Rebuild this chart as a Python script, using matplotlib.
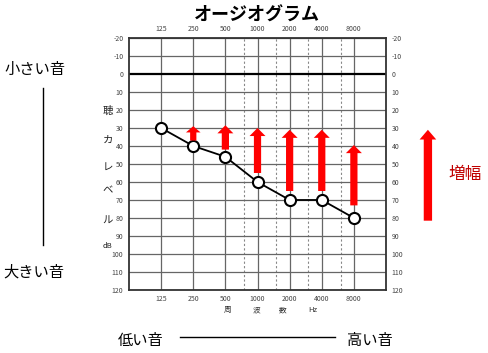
import matplotlib
matplotlib.use("Agg")
import matplotlib.pyplot as plt
import matplotlib.transforms as mtransforms
from matplotlib.patches import FancyArrowPatch, ArrowStyle

plt.rcParams['font.family'] = ['Noto Sans CJK JP', 'DejaVu Sans']

# audiogram data
freqs = [125, 250, 500, 1000, 2000, 4000, 8000]
freq_labels = ['125', '250', '500', '1000', '2000', '4000', '8000']
levels = [30, 40, 46, 60, 70, 70, 80]
half_octaves = [750, 1500, 3000, 6000]
db_ticks = list(range(-20, 121, 10))

# amplification arrows (bottom -> tip in dB)
arrow_freqs = [250, 500, 1000, 2000, 4000, 8000]
arrow_base = [37, 42, 55, 65, 65, 73]
arrow_tip = [29, 28.5, 30, 31, 31, 39.5]

fig = plt.figure(figsize=(4.89, 3.53), dpi=100)
ax = fig.add_axes([0.2638, 0.1785, 0.5256, 0.7139])

ax.set_xscale('log', base=2)
ax.set_xlim(62.5, 16000)
ax.set_ylim(120, -20)
ax.minorticks_off()

# grid
for f in freqs:
    ax.axvline(f, color='#666666', lw=0.9, zorder=1)
for f in half_octaves:
    ax.axvline(f, color='#888888', lw=0.8, ls=(0, (2, 2)), zorder=1)
for d in db_ticks:
    if d == 0:
        ax.axhline(d, color='black', lw=1.6, zorder=1)
    else:
        ax.axhline(d, color='#666666', lw=0.9, zorder=1)

for s in ax.spines.values():
    s.set_color('#333333')
    s.set_linewidth(1.3)

ax.set_xticks(freqs)
ax.set_xticklabels(freq_labels)
ax.set_yticks(db_ticks)
ax.set_yticklabels([str(d) for d in db_ticks])
ax.tick_params(axis='both', length=0, labelsize=5, labelcolor='#444444')
ax.tick_params(axis='x', labeltop=True, labelbottom=True, pad=3.5)
ax.tick_params(axis='y', labelleft=True, labelright=True, pad=4)

# hearing curve
ax.plot(freqs, levels, color='black', lw=1.3, marker='o', ms=8,
        mfc='white', mec='black', mew=1.5, zorder=4)

# red arrows
for f, b, t in zip(arrow_freqs, arrow_base, arrow_tip):
    big = (b - t) > 10
    style = ArrowStyle.Simple(head_length=5.8 if big else 4.5,
                              head_width=11.5 if big else 10.5,
                              tail_width=5.2 if big else 4.5)
    ax.add_patch(FancyArrowPatch((f, b), (f, t), arrowstyle=style,
                                 mutation_scale=1, color='#ff0000', lw=0,
                                 shrinkA=0, shrinkB=0, zorder=5))

# legend arrow
tr = mtransforms.blended_transform_factory(ax.transAxes, ax.transData)
ax.add_patch(FancyArrowPatch((1.163, 81.5), (1.163, 31), transform=tr,
                             arrowstyle=ArrowStyle.Simple(head_length=7, head_width=12,
                                                          tail_width=6),
                             mutation_scale=1, color='#ff0000', lw=0,
                             shrinkA=0, shrinkB=0, clip_on=False))
fig.text(0.951, 0.493, '増幅', color='#c00000', fontsize=12, ha='center', va='baseline')

# y label stacked
for ch, y in zip(['聴', 'カ', 'レ', 'ベ', 'ル'], [22, 38.5, 53, 66.5, 83]):
    ax.text(-0.082, y, ch, transform=tr, fontsize=7.5, ha='center', va='baseline',
            color='#222222')
ax.text(-0.082, 96.5, 'dB', transform=tr, fontsize=5.5, ha='center', va='baseline',
        color='#222222')

# x label
for ch, x in zip(['周', '波', '数', 'Hz'], [0.385, 0.498, 0.599, 0.716]):
    ax.text(x, -0.088, ch, transform=ax.transAxes, fontsize=5.5, ha='center',
            va='baseline', color='#333333')

fig.text(0.5245, 0.957, 'オージオグラム', fontsize=13, fontweight='bold',
         ha='center', va='center')

# left side
fig.text(0.072, 0.802, '小さい音', fontsize=11, ha='center', va='center')
fig.text(0.070, 0.229, '大きい音', fontsize=11, ha='center', va='center')
fig.add_artist(plt.Line2D([0.088, 0.088], [0.751, 0.306], color='black', lw=1))

# bottom
fig.text(0.288, 0.034, '低い音', fontsize=11, ha='center', va='center')
fig.text(0.757, 0.034, '高い音', fontsize=11, ha='center', va='center')
fig.add_artist(plt.Line2D([0.368, 0.685], [0.045, 0.045], color='black', lw=1))

fig.savefig('out.png', dpi=100)
